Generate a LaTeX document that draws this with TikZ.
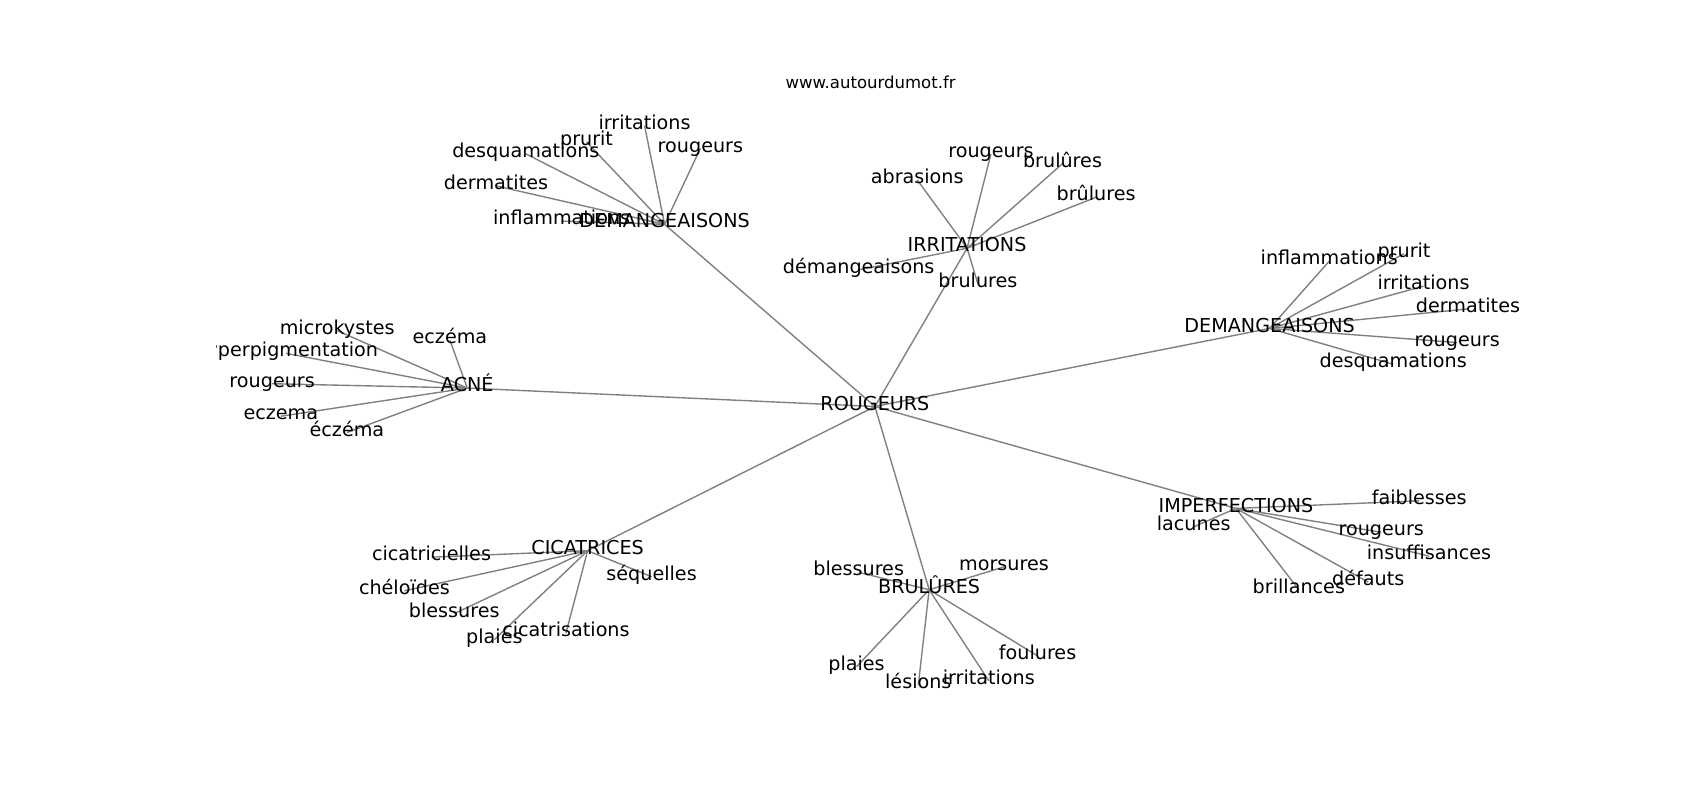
\documentclass[tikz,border=0pt]{standalone}
\usepackage{fontspec}
\setmainfont{DejaVu Sans}
\pgfdeclarelayer{bg}
\pgfsetlayers{bg,main}
\tikzset{
  lbl/.style={font=\fontsize{13.8}{16}\selectfont, inner sep=0pt, text height=0.76em, text depth=0.24em, anchor=center, yshift=-1.5pt},
  link/.style={draw={rgb,255:red,128;green,128;blue,128}, line width=1pt},
  ttl/.style={font=\fontsize{11.9}{14}\selectfont, inner sep=0pt, text height=0.76em, text depth=0.24em, anchor=center, yshift=-1.5pt}
}
\begin{document}
\begin{tikzpicture}[x=0.7806pt, y=-0.7806pt]
\begin{pgfonlayer}{bg}
\fill[white] (0,0) rectangle (1568,738);
\end{pgfonlayer}
\useasboundingbox (0,0) rectangle (1568,738);
\node[ttl] (title) at (803,76) {www.autourdumot.fr};
\begin{scope}
\clip (199.5,88.5) rectangle (1411,656.7);
% center
\node[lbl] (r) at (807,373) {ROUGEURS};
% hubs
\node[lbl] (d1) at (613,205) {DEMANGEAISONS};
\node[lbl] (irr) at (892,227) {IRRITATIONS};
\node[lbl] (d2) at (1171,301) {DEMANGEAISONS};
\node[lbl] (acne) at (431,356) {ACNÉ};
\node[lbl] (cic) at (542,506) {CICATRICES};
\node[lbl] (bru) at (857,542) {BRULÛRES};
\node[lbl] (imp) at (1140,467) {IMPERFECTIONS};
% DEMANGEAISONS 1 leaves
\node[lbl] (d1a) at (594.5,114) {irritations};
\node[lbl] (d1b) at (541,129) {prurit};
\node[lbl] (d1c) at (646,135) {rougeurs};
\node[lbl] (d1d) at (485,140) {desquamations};
\node[lbl] (d1e) at (457.5,169.5) {dermatites};
\node[lbl] (d1f) at (518,202) {inflammations};
% IRRITATIONS leaves
\node[lbl] (ia) at (914,140) {rougeurs};
\node[lbl] (ib) at (980,149) {brulûres};
\node[lbl] (ic) at (846,164) {abrasions};
\node[lbl] (id) at (1011,180) {brûlures};
\node[lbl] (ie) at (792,247) {démangeaisons};
\node[lbl] (if) at (902,260) {brulures};
% DEMANGEAISONS 2 leaves
\node[lbl] (d2a) at (1226,239) {inflammations};
\node[lbl] (d2b) at (1295,232) {prurit};
\node[lbl] (d2c) at (1313,262) {irritations};
\node[lbl] (d2d) at (1354,283) {dermatites};
\node[lbl] (d2e) at (1344,314) {rougeurs};
\node[lbl] (d2f) at (1285,334) {desquamations};
% ACNE leaves
\node[lbl] (aa) at (311,303) {microkystes};
\node[lbl] (ab) at (264,324) {hyperpigmentation};
\node[lbl] (ac) at (415,312) {eczéma};
\node[lbl] (ad) at (251,352) {rougeurs};
\node[lbl] (ae) at (259,382) {eczema};
\node[lbl] (af) at (320,397) {éczéma};
% CICATRICES leaves
\node[lbl] (ca) at (398,512) {cicatricielles};
\node[lbl] (cb) at (373,543) {chéloïdes};
\node[lbl] (cc) at (419,564) {blessures};
\node[lbl] (cd) at (456,588) {plaies};
\node[lbl] (ce) at (522,582) {cicatrisations};
\node[lbl] (cf) at (601,530) {séquelles};
% BRULURES leaves
\node[lbl] (ba) at (792,526) {blessures};
\node[lbl] (bb) at (926,521) {morsures};
\node[lbl] (bc) at (790,613) {plaies};
\node[lbl] (bd) at (847,630) {lésions};
\node[lbl] (be) at (912,626) {irritations};
\node[lbl] (bf) at (957,603) {foulures};
% IMPERFECTIONS leaves
\node[lbl] (pa) at (1309,460) {faiblesses};
\node[lbl] (pb) at (1101,484) {lacunes};
\node[lbl] (pc) at (1274,489) {rougeurs};
\node[lbl] (pd) at (1318,511) {insuffisances};
\node[lbl] (pe) at (1262,535) {défauts};
\node[lbl] (pf) at (1198,542) {brillances};
\begin{pgfonlayer}{bg}
\foreach \h in {d1,irr,d2,acne,cic,bru,imp} \draw[link] (r.center) -- (\h.center);
\foreach \l in {d1a,d1b,d1c,d1d,d1e,d1f} \draw[link] (d1.center) -- (\l.center);
\foreach \l in {ia,ib,ic,id,ie,if} \draw[link] (irr.center) -- (\l.center);
\foreach \l in {d2a,d2b,d2c,d2d,d2e,d2f} \draw[link] (d2.center) -- (\l.center);
\foreach \l in {aa,ab,ac,ad,ae,af} \draw[link] (acne.center) -- (\l.center);
\foreach \l in {ca,cb,cc,cd,ce,cf} \draw[link] (cic.center) -- (\l.center);
\foreach \l in {ba,bb,bc,bd,be,bf} \draw[link] (bru.center) -- (\l.center);
\foreach \l in {pa,pb,pc,pd,pe,pf} \draw[link] (imp.center) -- (\l.center);
\end{pgfonlayer}
\end{scope}
\end{tikzpicture}
\end{document}
